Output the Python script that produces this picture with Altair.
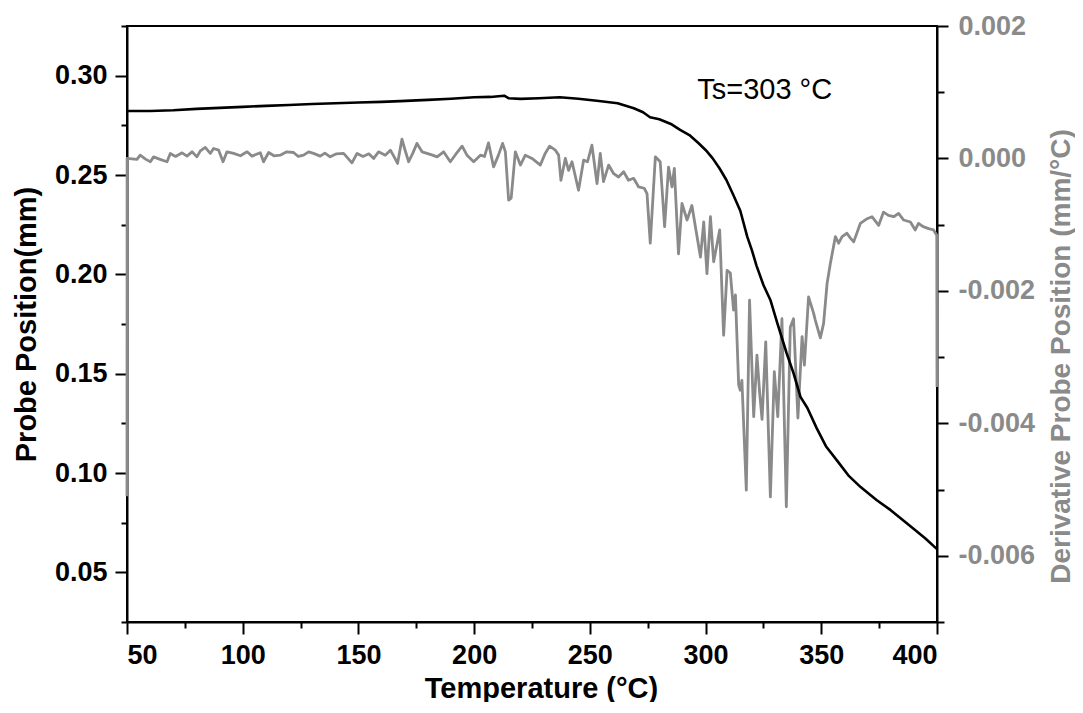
import altair as alt
import pandas as pd

# ---------------- data ----------------
temp_pos = [50, 60, 70, 80, 90, 100, 110, 120, 130, 140, 150, 160, 168, 180, 190,
            200, 207, 213, 215, 220, 228, 237, 245, 253, 262, 269, 273, 276, 280,
            285, 289, 293, 297, 300, 303, 306, 309, 312, 315, 318, 320, 322, 325,
            328, 331, 335, 338, 341, 344, 348, 352, 357, 362, 367, 374, 380, 384,
            390, 395, 400]
probe_pos = [0.2822, 0.2822, 0.2826, 0.2833, 0.2838, 0.2843, 0.2848, 0.2852, 0.2857,
             0.2861, 0.2865, 0.2868, 0.2872, 0.2878, 0.2884, 0.2891, 0.2893, 0.2899,
             0.2886, 0.2883, 0.2886, 0.2891, 0.2884, 0.2874, 0.2861, 0.2836, 0.2816,
             0.2791, 0.2781, 0.2757, 0.2727, 0.2701, 0.2660, 0.2626, 0.2585, 0.2534,
             0.2475, 0.2399, 0.2320, 0.2190, 0.2122, 0.2044, 0.1946, 0.1871, 0.1755,
             0.1604, 0.1503, 0.1383, 0.1327, 0.1226, 0.1135, 0.1060, 0.0984, 0.0929,
             0.0863, 0.0813, 0.0775, 0.0718, 0.0670, 0.0617]

temp_der = [50.0, 50.05, 54.3, 55.7, 58.0, 60.1, 61.5, 64.0, 67.3, 68.7, 71.0, 73.8,
            75.9, 78.1, 80.2, 81.7, 83.8, 86.0, 87.4, 89.6, 91.5, 93.2, 96.1, 99.0,
            101.9, 104.0, 107.6, 109.0, 111.2, 113.5, 116.2, 119.0, 122.0, 124.0,
            126.3, 128.5, 130.6, 133.5, 135.5, 137.8, 140.5, 143.6, 147.2, 149.4,
            152.0, 154.5, 156.6, 158.7, 161.6, 163.8, 165.5, 166.9, 168.8, 170.2,
            171.7, 173.5, 175.3, 177.5, 179.6, 182.0, 184.0, 186.8, 189.7, 192.0,
            194.8, 196.9, 199.8, 202.7, 204.5, 206.2, 208.4, 210.5, 212.3, 213.5,
            214.9, 216.0, 217.8, 220.0, 222.1, 225.0, 228.6, 230.7, 232.6, 235.1,
            236.5, 237.5, 239.4, 240.8, 242.3, 245.1, 247.3, 249.0, 250.9, 253.1,
            254.5, 255.9, 258.1, 260.3, 262.4, 264.6, 266.7, 268.9, 271.1, 273.5,
            274.7, 276.1, 278.3, 280.4, 282.3, 284.0, 285.5, 286.5, 288.3, 289.8,
            292.0, 294.1, 295.6, 297.8, 299.2, 300.6, 302.1, 303.5, 306.1, 307.8,
            309.3, 310.7, 312.1, 312.9, 314.3, 315.0, 315.7, 317.6, 319.0, 320.8,
            322.2, 323.4, 324.4, 326.0, 328.0, 329.7, 331.2, 333.0, 334.9, 336.6,
            338.0, 339.9, 341.7, 342.7, 344.5, 346.7, 347.4, 349.6, 351.0, 352.5,
            353.9, 356.1, 357.5, 359.0, 361.1, 362.5, 364.0, 366.9, 369.8, 371.9,
            374.8, 376.9, 379.0, 381.3, 383.4, 385.6, 388.5, 390.6, 392.0, 394.0,
            396.4, 398.5, 399.9, 400.0]
deriv = [-0.0051, 0.0, -0.000015, 0.00005, -0.00001, -0.00005, 0.000024, -0.00001,
         -0.00005, 0.000075, 0.00003, 0.000085, 0.000035, 0.0001, 0.000024, 0.000115,
         0.000166, 0.000076, 0.00015, 0.000125, -0.00005, 0.0001, 0.000076, 0.00004,
         0.0001, 0.000035, 0.000085, -0.00005, 0.00009, 0.00004, 0.00005, 0.0001,
         0.00009, 0.00003, 0.00005, 0.0001, 0.000076, 0.000035, 0.00008, 0.000024,
         0.00007, 0.000076, -0.000066, 0.000076, 0.00003, 0.00007, 0.0, 0.0001,
         0.00005, 0.000125, 0.00002, -0.000076, 0.00029, 0.00012, -0.00005, 0.00008,
         0.000227, 0.0001, 0.000076, 0.00005, 0.000024, 0.0001, -0.00005, 0.00006,
         0.000186, 0.00005, -0.00005, 0.00005, 0.00003, 0.000236, -0.000127, 0.00005,
         0.000227, 0.0001, -0.00063, -0.0006, 0.0001, -0.0001, 0.00005, 0.0, -0.0001,
         0.000076, 0.000186, 0.000125, 0.00005, -0.00033, 0.0, -0.00018, -0.00005,
         -0.00048, -0.000026, -0.00005, 0.0002, -0.00038, 0.000076, -0.00035, -0.0001,
         -0.00023, -0.00028, -0.0002, -0.00033, -0.0003, -0.00043, -0.00045, -0.00053,
         -0.00128, 0.000024, -0.00005, -0.00103, -0.00013, -0.00043, -0.00015,
         -0.00144, -0.00068, -0.00093, -0.00071, -0.00103, -0.00149, -0.00096,
         -0.00174, -0.00088, -0.00156, -0.00108, -0.00267, -0.00169, -0.00173,
         -0.00229, -0.00206, -0.00342, -0.0035, -0.00335, -0.00501, -0.00214, -0.0039,
         -0.00297, -0.00355, -0.00394, -0.00277, -0.00511, -0.00322, -0.0039,
         -0.00242, -0.00526, -0.00255, -0.00242, -0.00392, -0.00269, -0.00312,
         -0.00209, -0.00234, -0.00244, -0.00271, -0.00249, -0.00189, -0.00159,
         -0.00118, -0.00128, -0.00118, -0.00113, -0.0012, -0.00126, -0.00098,
         -0.00091, -0.00088, -0.00101, -0.00081, -0.00086, -0.00088, -0.00083,
         -0.00093, -0.00096, -0.00108, -0.00098, -0.00103, -0.00106, -0.00108,
         -0.00116, -0.00345]

x_major = [50, 100, 150, 200, 250, 300, 350, 400]
x_minor = [75, 125, 175, 225, 275, 325, 375]
y_major = [0.05, 0.10, 0.15, 0.20, 0.25, 0.30]
y_minor = [0.025, 0.075, 0.125, 0.175, 0.225, 0.275, 0.325]
d_major = [-0.006, -0.004, -0.002, 0.0, 0.002]
d_minor = [-0.007, -0.005, -0.003, -0.001, 0.001]

ann_T = [296.4]
ann_P = [0.2883]
ann_text = ["Ts=303 °C"]

# ---------------- chart ----------------
FONT = "Liberation Sans"
GRAY = "#8a8a8a"

pos_df = pd.DataFrame({"T": temp_pos, "P": probe_pos})
der_df = pd.DataFrame({"T": temp_der, "D": deriv, "i": list(range(len(deriv)))})
ann_df = pd.DataFrame({"T": ann_T, "P": ann_P, "label": ann_text})

xs = alt.Scale(domain=[50, 400], nice=False, zero=False)
ys = alt.Scale(domain=[0.025, 0.325], nice=False, zero=False)
ds = alt.Scale(domain=[-0.007, 0.002], nice=False, zero=False)

W, H = 810, 596

x_axis = alt.Axis(orient="bottom", values=x_major, tickSize=12, format="d",
                  labelPadding=8, title="Temperature (°C)",
                  titleX=414, titleY=75, titleBaseline="alphabetic")
x_minor_axis = alt.Axis(orient="bottom", values=x_minor, tickSize=6, labels=False,
                        domain=False, title="")
y_axis = alt.Axis(orient="left", values=y_major, tickSize=12, format=".2f",
                  labelPadding=8, title="Probe Position(mm)",
                  titleX=-92, titleY=298, titleAngle=270, titleBaseline="alphabetic")
y_minor_axis = alt.Axis(orient="left", values=y_minor, tickSize=6, labels=False,
                        domain=False, title="")
d_axis = alt.Axis(orient="right", values=d_major, tickSize=11,
                  labelExpr="replace(format(datum.value, '.3f'), '\u2212', '-')",
                  labelPadding=10, labelColor=GRAY, titleColor=GRAY,
                  title="Derivative Probe Position (mm/°C)", titleFontSize=28,
                  titleX=132, titleY=330, titleAngle=270, titleBaseline="alphabetic")
d_minor_axis = alt.Axis(orient="right", values=d_minor, tickSize=7, labels=False,
                        domain=False, title="")

gray_line = alt.Chart(der_df).mark_line(
    color=GRAY, strokeWidth=2.8, strokeJoin="round"
).encode(
    x=alt.X("T:Q", scale=xs, axis=None),
    y=alt.Y("D:Q", scale=ds, axis=d_axis),
    order=alt.Order("i:Q"),
)

black_line = alt.Chart(pos_df).mark_line(
    color="black", strokeWidth=2.6, strokeJoin="round"
).encode(
    x=alt.X("T:Q", scale=xs, axis=x_axis),
    y=alt.Y("P:Q", scale=ys, axis=y_axis),
)

minor_left = alt.Chart(pos_df).mark_line(opacity=0).encode(
    x=alt.X("T:Q", scale=xs, axis=x_minor_axis),
    y=alt.Y("P:Q", scale=ys, axis=y_minor_axis),
)

minor_right = alt.Chart(der_df).mark_line(opacity=0).encode(
    x=alt.X("T:Q", scale=xs, axis=None),
    y=alt.Y("D:Q", scale=ds, axis=d_minor_axis),
)

ann = alt.Chart(ann_df).mark_text(
    align="left", baseline="alphabetic", font=FONT, fontSize=29, color="black"
).encode(
    x=alt.X("T:Q", scale=xs, axis=None),
    y=alt.Y("P:Q", scale=ys, axis=None),
    text="label:N",
)

chart = (
    alt.layer(gray_line, black_line, minor_left, minor_right, ann)
    .resolve_scale(x="independent", y="independent")
    .properties(width=W, height=H, autosize="none",
                padding={"left": 119, "top": 18, "right": 138, "bottom": 80})
    .configure_view(stroke="black", strokeWidth=2)
    .configure_axis(grid=False, domainColor="black", domainWidth=2,
                    tickColor="black", tickWidth=2,
                    labelFont=FONT, labelFontWeight="bold", labelFontSize=27,
                    labelColor="black",
                    titleFont=FONT, titleFontWeight="bold", titleFontSize=29,
                    titleColor="black")
)

chart.save("out.html", embed_options={"renderer": "svg", "actions": False})
